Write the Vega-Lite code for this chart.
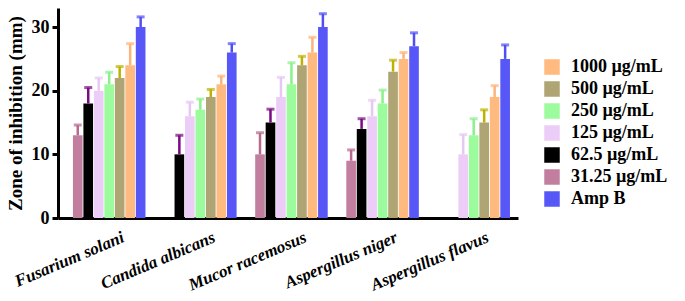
{
  "$schema": "https://vega.github.io/schema/vega-lite/v6.json",
  "width": 460,
  "height": 210,
  "autosize": {"type": "none"},
  "padding": {"left": 58, "top": 8, "right": 167, "bottom": 83},
  "background": "white",
  "config": {
    "view": {"stroke": null},
    "font": "Liberation Serif",
    "axis": {"grid": false, "domainColor": "black", "tickColor": "black", "labelColor": "black", "titleColor": "black"}
  },
  "data": {
    "values": [
      {"fungus": "Fusarium solani", "conc": "31.25 µg/mL", "value": 13, "upper": 14.6},
      {"fungus": "Fusarium solani", "conc": "62.5 µg/mL", "value": 18, "upper": 20.5},
      {"fungus": "Fusarium solani", "conc": "125  µg/mL", "value": 20, "upper": 22},
      {"fungus": "Fusarium solani", "conc": "250  µg/mL", "value": 21, "upper": 22.9},
      {"fungus": "Fusarium solani", "conc": "500  µg/mL", "value": 22, "upper": 23.8},
      {"fungus": "Fusarium solani", "conc": "1000 µg/mL", "value": 24, "upper": 27.4},
      {"fungus": "Fusarium solani", "conc": "Amp B", "value": 30, "upper": 31.6},
      {"fungus": "Candida albicans", "conc": "62.5 µg/mL", "value": 10, "upper": 13},
      {"fungus": "Candida albicans", "conc": "125  µg/mL", "value": 16, "upper": 18.2},
      {"fungus": "Candida albicans", "conc": "250  µg/mL", "value": 17, "upper": 18.7},
      {"fungus": "Candida albicans", "conc": "500  µg/mL", "value": 19, "upper": 20.2},
      {"fungus": "Candida albicans", "conc": "1000 µg/mL", "value": 21, "upper": 22.3},
      {"fungus": "Candida albicans", "conc": "Amp B", "value": 26, "upper": 27.4},
      {"fungus": "Mucor racemosus", "conc": "31.25 µg/mL", "value": 10, "upper": 13.4},
      {"fungus": "Mucor racemosus", "conc": "62.5 µg/mL", "value": 15, "upper": 17.1},
      {"fungus": "Mucor racemosus", "conc": "125  µg/mL", "value": 19, "upper": 22.1},
      {"fungus": "Mucor racemosus", "conc": "250  µg/mL", "value": 21, "upper": 24.4},
      {"fungus": "Mucor racemosus", "conc": "500  µg/mL", "value": 24, "upper": 25.4},
      {"fungus": "Mucor racemosus", "conc": "1000 µg/mL", "value": 26, "upper": 28.4},
      {"fungus": "Mucor racemosus", "conc": "Amp B", "value": 30, "upper": 32.1},
      {"fungus": "Aspergillus niger", "conc": "31.25 µg/mL", "value": 9, "upper": 10.7},
      {"fungus": "Aspergillus niger", "conc": "62.5 µg/mL", "value": 14, "upper": 15.6},
      {"fungus": "Aspergillus niger", "conc": "125  µg/mL", "value": 16, "upper": 18.5},
      {"fungus": "Aspergillus niger", "conc": "250  µg/mL", "value": 18, "upper": 20.1},
      {"fungus": "Aspergillus niger", "conc": "500  µg/mL", "value": 23, "upper": 24.8},
      {"fungus": "Aspergillus niger", "conc": "1000 µg/mL", "value": 25, "upper": 26},
      {"fungus": "Aspergillus niger", "conc": "Amp B", "value": 27, "upper": 29.1},
      {"fungus": "Aspergillus flavus", "conc": "125  µg/mL", "value": 10, "upper": 13.1},
      {"fungus": "Aspergillus flavus", "conc": "250  µg/mL", "value": 13, "upper": 15.6},
      {"fungus": "Aspergillus flavus", "conc": "500  µg/mL", "value": 15, "upper": 17},
      {"fungus": "Aspergillus flavus", "conc": "1000 µg/mL", "value": 19, "upper": 20.8},
      {"fungus": "Aspergillus flavus", "conc": "Amp B", "value": 25, "upper": 27.2}
    ]
  },
  "encoding": {
    "x": {
      "field": "fungus", "type": "nominal",
      "sort": ["Fusarium solani", "Candida albicans", "Mucor racemosus", "Aspergillus niger", "Aspergillus flavus"],
      "scale": {"paddingInner": 0.204, "paddingOuter": 0.126, "align": 0.65},
      "axis": {"title": null, "labelFont": "Liberation Serif", "labelAngle": -23, "labelFontSize": 17, "labelFontWeight": "bold", "labelFontStyle": "italic", "ticks": false, "domainWidth": 3, "labelPadding": 11, "labelOffset": 11}
    },
    "xOffset": {
      "field": "conc", "type": "nominal",
      "scale": {"domain": ["31.25 µg/mL", "62.5 µg/mL", "125  µg/mL", "250  µg/mL", "500  µg/mL", "1000 µg/mL", "Amp B"], "paddingInner": 0.08}
    },
    "y": {
      "field": "value", "type": "quantitative",
      "scale": {"domain": [0, 33], "nice": false},
      "axis": {"title": "Zone of inhibition (mm)", "labelFont": "Liberation Serif", "titleFont": "Liberation Serif", "values": [0, 10, 20, 30], "titleFontSize": 19, "titleFontWeight": "bold", "labelFontSize": 18, "labelFontWeight": "bold", "domainWidth": 3, "tickWidth": 3, "tickSize": 6, "labelPadding": 3, "titlePadding": 6}
    }
  },
  "layer": [
    {
      "mark": {"type": "bar"},
      "encoding": {
        "color": {
          "field": "conc", "type": "nominal",
          "scale": {
            "domain": ["1000 µg/mL", "500  µg/mL", "250  µg/mL", "125  µg/mL", "62.5 µg/mL", "31.25 µg/mL", "Amp B"],
            "range": ["#FFBA80", "#AFA474", "#9CFB9C", "#EBCDF7", "#000000", "#C27E9F", "#5757F7"]
          },
          "legend": {
            "title": null, "orient": "none", "legendX": 485, "legendY": 50,
            "symbolType": "square", "symbolSize": 240, "symbolStrokeWidth": 0,
            "labelFont": "Liberation Serif", "labelFontSize": 18, "labelFontWeight": "bold", "labelColor": "black",
            "labelOffset": 10, "rowPadding": 4, "labelLimit": 200
          }
        }
      }
    },
    {
      "layer": [
        {
          "mark": {"type": "rule", "strokeWidth": 2.5},
          "encoding": {
            "y2": {"field": "upper"},
            "color": {
              "field": "conc", "type": "nominal",
              "scale": {
                "domain": ["1000 µg/mL", "500  µg/mL", "250  µg/mL", "125  µg/mL", "62.5 µg/mL", "31.25 µg/mL", "Amp B"],
                "range": ["#FDB47A", "#BDB200", "#8CF08C", "#E6C8F5", "#7A0A85", "#B86A8E", "#4F4FF5"]
              },
              "legend": null
            }
          }
        },
        {
          "mark": {"type": "tick", "thickness": 3, "size": 8, "orient": "horizontal"},
          "encoding": {
            "y": {"field": "upper", "type": "quantitative"},
            "color": {
              "field": "conc", "type": "nominal",
              "scale": {
                "domain": ["1000 µg/mL", "500  µg/mL", "250  µg/mL", "125  µg/mL", "62.5 µg/mL", "31.25 µg/mL", "Amp B"],
                "range": ["#FDB47A", "#BDB200", "#8CF08C", "#E6C8F5", "#7A0A85", "#B86A8E", "#4F4FF5"]
              },
              "legend": null
            }
          }
        }
      ]
    }
  ],
  "resolve": {"scale": {"color": "independent"}, "legend": {"color": "independent"}}
}
